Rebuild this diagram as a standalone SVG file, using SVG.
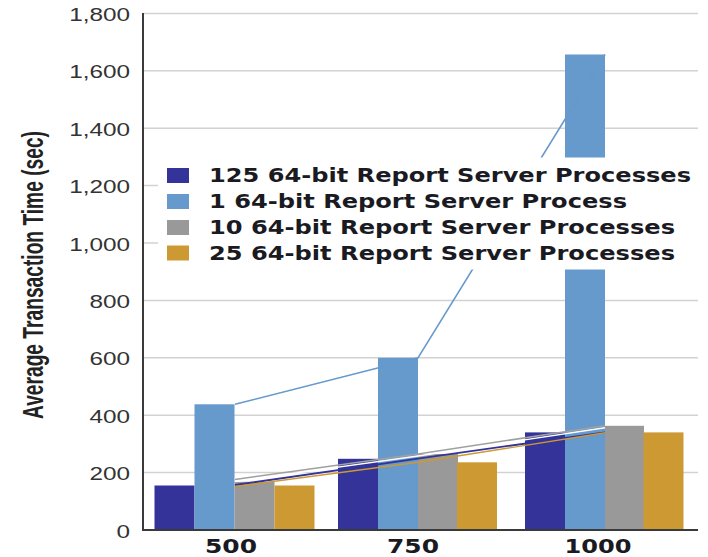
<svg xmlns="http://www.w3.org/2000/svg" width="708" height="557" viewBox="0 0 708 557">
  <style>
    .grid { stroke: #d2d2d2; stroke-width: 1.5; }
    .axis { stroke: #3a3a3a; stroke-width: 2; fill: none; }
    .ylab { font-family: "Liberation Sans", Arial, sans-serif; font-size: 19px; fill: #333333; text-anchor: end; }
    .ytitle { font-family: "Liberation Sans", Arial, sans-serif; font-size: 20px; font-weight: bold; fill: #222222; text-anchor: middle; }
    .xlab { font-family: "DejaVu Sans", Verdana, sans-serif; font-size: 19px; font-weight: bold; fill: #1a1a22; text-anchor: middle; }
    .leg { font-family: "DejaVu Sans", Verdana, sans-serif; font-size: 20px; font-weight: bold; fill: #1a1a22; }
    .s125 { fill: #333399; }
    .s1 { fill: #6699cc; }
    .s10 { fill: #999999; }
    .s25 { fill: #cc9933; }
    .ln { fill: none; stroke-linejoin: round; }
  </style>

  <rect width="708" height="557" fill="#ffffff"/>

  <!-- horizontal gridlines every 200 s -->
  <g id="gridlines">
    <line class="grid" x1="143" y1="13.4" x2="698" y2="13.4"/>
    <line class="grid" x1="143" y1="70.8" x2="698" y2="70.8"/>
    <line class="grid" x1="143" y1="128.2" x2="698" y2="128.2"/>
    <line class="grid" x1="143" y1="185.6" x2="698" y2="185.6"/>
    <line class="grid" x1="143" y1="243" x2="698" y2="243"/>
    <line class="grid" x1="143" y1="300.4" x2="698" y2="300.4"/>
    <line class="grid" x1="143" y1="357.8" x2="698" y2="357.8"/>
    <line class="grid" x1="143" y1="415.2" x2="698" y2="415.2"/>
    <line class="grid" x1="143" y1="472.6" x2="698" y2="472.6"/>
  </g>

  <!-- y axis tick labels -->
  <g id="y-labels" transform="translate(130 0) scale(1.28 1)">
    <text class="ylab" x="0" y="21">1,800</text>
    <text class="ylab" x="0" y="78.4">1,600</text>
    <text class="ylab" x="0" y="135.8">1,400</text>
    <text class="ylab" x="0" y="193.2">1,200</text>
    <text class="ylab" x="0" y="250.6">1,000</text>
    <text class="ylab" x="0" y="308">800</text>
    <text class="ylab" x="0" y="365.4">600</text>
    <text class="ylab" x="0" y="422.8">400</text>
    <text class="ylab" x="0" y="480.2">200</text>
    <text class="ylab" x="0" y="537.6">0</text>
  </g>

  <text id="y-title" class="ytitle" transform="translate(43 275) rotate(-90) scale(1 1.5)" x="0" y="0" textLength="288" lengthAdjust="spacingAndGlyphs">Average Transaction Time (sec)</text>

  <!-- bars: 500 users -->
  <g id="group-500">
    <rect class="s125" x="154.5" y="485.5" width="40" height="44.5"/>
    <rect class="s1" x="194.5" y="404.3" width="40" height="125.7"/>
    <rect class="s10" x="234.5" y="481.8" width="40" height="48.2"/>
    <rect class="s25" x="274.5" y="485.5" width="40" height="44.5"/>
  </g>
  <!-- bars: 750 users -->
  <g id="group-750">
    <rect class="s125" x="338" y="458.8" width="40" height="71.2"/>
    <rect class="s1" x="378" y="357.8" width="40" height="172.2"/>
    <rect class="s10" x="418" y="454" width="40" height="76"/>
    <rect class="s25" x="457" y="462.3" width="40" height="67.7"/>
  </g>
  <!-- bars: 1000 users -->
  <g id="group-1000">
    <rect class="s125" x="525" y="432.4" width="40" height="97.6"/>
    <rect class="s1" x="565" y="54.5" width="40" height="475.5"/>
    <rect class="s10" x="605" y="425.8" width="39" height="104.2"/>
    <rect class="s25" x="643.5" y="432.4" width="40" height="97.6"/>
  </g>

  <!-- series trend lines through category centres -->
  <g id="connectors">
    <polyline class="ln" stroke="#6699cc" stroke-width="1.6" points="235,404.3 418,357.8 605,54.5"/>
    <polyline class="ln" stroke="#ffffff" stroke-width="1.4" points="235,481.5 418,456 605,427.7"/>
    <polyline class="ln" stroke="#a0a0a0" stroke-width="1.5" points="235,479.5 418,454 605,425.7"/>
    <polyline class="ln" stroke="#333399" stroke-width="1.8" points="235,485 418,458.7 605,432.3"/>
    <polyline class="ln" stroke="#cc9933" stroke-width="1.4" points="235,486.5 418,462.3 605,432.8"/>
  </g>

  <!-- axes -->
  <g id="axes">
    <line class="axis" x1="143" y1="13" x2="143" y2="531"/>
    <line class="axis" x1="142" y1="530" x2="698" y2="530"/>
  </g>

  <!-- x axis category labels -->
  <g id="x-labels">
    <text class="xlab" x="231" y="553" textLength="52" lengthAdjust="spacingAndGlyphs">500</text>
    <text class="xlab" x="413" y="553" textLength="52" lengthAdjust="spacingAndGlyphs">750</text>
    <text class="xlab" x="598" y="553" textLength="67" lengthAdjust="spacingAndGlyphs">1000</text>
  </g>

  <!-- legend -->
  <g id="legend">
    <rect x="158" y="157.5" width="542" height="112" fill="#ffffff"/>
    <g id="legend-125">
      <rect class="s125" x="167" y="168" width="22" height="15"/>
      <text class="leg" x="209" y="182" textLength="482" lengthAdjust="spacingAndGlyphs">125 64-bit Report Server Processes</text>
    </g>
    <g id="legend-1">
      <rect class="s1" x="167" y="194" width="22" height="15"/>
      <text class="leg" x="209" y="208" textLength="418" lengthAdjust="spacingAndGlyphs">1 64-bit Report Server Process</text>
    </g>
    <g id="legend-10">
      <rect class="s10" x="167" y="220" width="22" height="15"/>
      <text class="leg" x="209" y="234" textLength="466" lengthAdjust="spacingAndGlyphs">10 64-bit Report Server Processes</text>
    </g>
    <g id="legend-25">
      <rect class="s25" x="167" y="245.5" width="22" height="15"/>
      <text class="leg" x="209" y="260" textLength="466" lengthAdjust="spacingAndGlyphs">25 64-bit Report Server Processes</text>
    </g>
  </g>
</svg>
